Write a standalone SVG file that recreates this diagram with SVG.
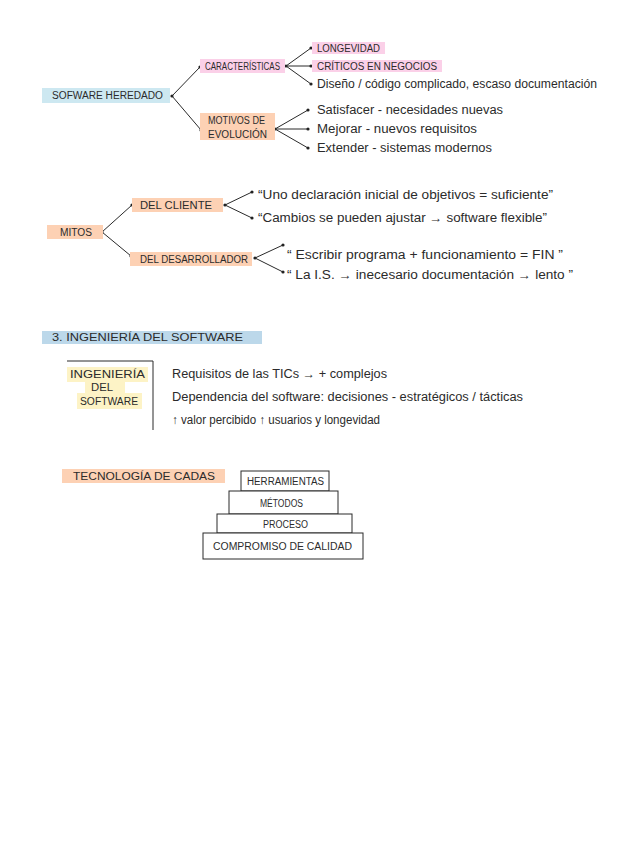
<svg xmlns="http://www.w3.org/2000/svg" width="619" height="848" viewBox="0 0 619 848">
<style>
.t{font-family:"Liberation Sans","DejaVu Sans",sans-serif;fill:#2b2b2b;font-size:12px}
.c{font-family:"Liberation Sans","DejaVu Sans",sans-serif;fill:#2b2b2b;font-size:10px}
.ln{stroke:#2a2a2a;stroke-width:1;fill:none}
.blue{fill:#cde8f1}
.pink{fill:#fbd0e8}
.peach{fill:#fdd1b4}
.yel{fill:#fdf3c6}
.hdr{fill:#bcd8ea}
.lvl{fill:#fff;stroke:#2a2a2a;stroke-width:1}
</style>
<defs>
<marker id="dot" viewBox="0 0 4 4" refX="2" refY="2" markerWidth="4" markerHeight="4" markerUnits="userSpaceOnUse"><circle cx="2" cy="2" r="1.6" fill="#222"/></marker>
</defs>
<rect width="619" height="848" fill="#fff"/>

<g id="connectors">
<path class="ln" marker-start="url(#dot)" marker-end="url(#dot)" d="M172,96 L200,67"/>
<path class="ln" marker-end="url(#dot)" d="M172,96 L201,130"/>
<path class="ln" marker-start="url(#dot)" marker-end="url(#dot)" d="M286,66 L311,48"/>
<path class="ln" marker-end="url(#dot)" d="M286,66 L311,66"/>
<path class="ln" marker-end="url(#dot)" d="M286,66 L311,84"/>
<path class="ln" marker-start="url(#dot)" marker-end="url(#dot)" d="M275,129 L308,110"/>
<path class="ln" marker-end="url(#dot)" d="M275,129 L308,129"/>
<path class="ln" marker-end="url(#dot)" d="M275,129 L308,148"/>
<path class="ln" marker-start="url(#dot)" marker-end="url(#dot)" d="M102,232 L132,205"/>
<path class="ln" marker-end="url(#dot)" d="M102,232 L131,256"/>
<path class="ln" marker-start="url(#dot)" marker-end="url(#dot)" d="M225,205 L252,192"/>
<path class="ln" marker-end="url(#dot)" d="M225,205 L252,218"/>
<path class="ln" marker-start="url(#dot)" marker-end="url(#dot)" d="M255,258 L283,245"/>
<path class="ln" marker-end="url(#dot)" d="M255,258 L283,272"/>
</g>

<g id="software-heredado"><rect class="blue" x="42" y="88" width="128" height="15"/><text class="c" x="52" y="99" textLength="111" lengthAdjust="spacingAndGlyphs">SOFWARE     HEREDADO</text></g>
<g id="caracteristicas"><rect class="pink" x="200" y="59" width="85" height="14"/><text class="c" x="205" y="70" textLength="75" lengthAdjust="spacingAndGlyphs">CARACTERÍSTICAS</text></g>
<g id="motivos"><rect class="peach" x="200" y="113" width="75" height="27"/><text class="c" x="208" y="124" textLength="57" lengthAdjust="spacingAndGlyphs">MOTIVOS DE</text><text class="c" x="208" y="138" textLength="59" lengthAdjust="spacingAndGlyphs">EVOLUCIÓN</text></g>
<g id="longevidad"><rect class="pink" x="312" y="42" width="73" height="12"/><text class="c" x="317" y="52" textLength="63" lengthAdjust="spacingAndGlyphs">LONGEVIDAD</text></g>
<g id="criticos"><rect class="pink" x="312" y="60" width="130" height="12"/><text class="c" x="317" y="70" textLength="120" lengthAdjust="spacingAndGlyphs">CRÍTICOS  EN  NEGOCIOS</text></g>
<g id="diseno"><text class="t" x="317" y="88" textLength="280" lengthAdjust="spacingAndGlyphs">Diseño / código  complicado,  escaso  documentación</text></g>
<g id="satisfacer"><text class="t" x="317" y="114" textLength="186" lengthAdjust="spacingAndGlyphs">Satisfacer - necesidades  nuevas</text></g>
<g id="mejorar"><text class="t" x="317" y="133" textLength="160" lengthAdjust="spacingAndGlyphs">Mejorar - nuevos  requisitos</text></g>
<g id="extender"><text class="t" x="317" y="152" textLength="175" lengthAdjust="spacingAndGlyphs">Extender - sistemas  modernos</text></g>

<g id="mitos"><rect class="peach" x="47" y="225" width="56" height="14"/><text class="c" x="60" y="236" textLength="32" lengthAdjust="spacingAndGlyphs">MITOS</text></g>
<g id="del-cliente"><rect class="peach" x="132" y="198" width="91" height="14"/><text class="c" x="140" y="209" textLength="72" lengthAdjust="spacingAndGlyphs">DEL   CLIENTE</text></g>
<g id="del-desarrollador"><rect class="peach" x="130" y="252" width="122" height="14"/><text class="c" x="140" y="263" textLength="108" lengthAdjust="spacingAndGlyphs">DEL   DESARROLLADOR</text></g>
<g id="mito1"><text class="t" x="258" y="199" textLength="295" lengthAdjust="spacingAndGlyphs">“Uno declaración inicial de objetivos = suficiente”</text></g>
<g id="mito2"><text class="t" x="258" y="222" textLength="289" lengthAdjust="spacingAndGlyphs">“Cambios se pueden ajustar → software flexible”</text></g>
<g id="mito3"><text class="t" x="287" y="259" textLength="276" lengthAdjust="spacingAndGlyphs">“ Escribir programa + funcionamiento  =  FIN ”</text></g>
<g id="mito4"><text class="t" x="287" y="279" textLength="286" lengthAdjust="spacingAndGlyphs">“ La I.S. → inecesario  documentación → lento ”</text></g>

<g id="header-3"><rect class="hdr" x="42" y="331" width="220" height="13"/><text class="c" x="52" y="341" textLength="191" lengthAdjust="spacingAndGlyphs">3.  INGENIERÍA    DEL    SOFTWARE</text></g>

<g id="ingenieria-box">
<path class="ln" d="M67,361 H153 V430"/>
<rect class="yel" x="67" y="367" width="81" height="15"/>
<rect class="yel" x="85" y="382" width="40" height="11"/>
<rect class="yel" x="77" y="393" width="65" height="16"/>
<text class="c" x="70" y="378" textLength="75" lengthAdjust="spacingAndGlyphs">INGENIERÍA</text>
<text class="c" x="91" y="391" textLength="22" lengthAdjust="spacingAndGlyphs">DEL</text>
<text class="c" x="80" y="405" textLength="58" lengthAdjust="spacingAndGlyphs">SOFTWARE</text>
</g>
<g id="requisitos"><text class="t" x="172" y="378" textLength="215" lengthAdjust="spacingAndGlyphs">Requisitos  de  las  TICs → + complejos</text></g>
<g id="dependencia"><text class="t" x="172" y="401" textLength="351" lengthAdjust="spacingAndGlyphs">Dependencia  del  software:  decisiones - estratégicos / tácticas</text></g>
<g id="valor"><text class="t" x="172" y="424" textLength="208" lengthAdjust="spacingAndGlyphs">↑ valor  percibido  ↑ usuarios  y  longevidad</text></g>

<g id="tecnologia-capas"><rect class="peach" x="62" y="469" width="163" height="14"/><text class="c" x="73" y="480" textLength="142" lengthAdjust="spacingAndGlyphs">TECNOLOGÍA    DE    CADAS</text></g>
<g id="herramientas"><rect class="lvl" x="241" y="471" width="88" height="20"/><text class="c" x="247" y="485" textLength="77" lengthAdjust="spacingAndGlyphs">HERRAMIENTAS</text></g>
<g id="metodos"><rect class="lvl" x="229" y="491" width="109" height="23"/><text class="c" x="260" y="507" textLength="43" lengthAdjust="spacingAndGlyphs">MÉTODOS</text></g>
<g id="proceso"><rect class="lvl" x="217" y="514" width="135" height="19"/><text class="c" x="263" y="528" textLength="45" lengthAdjust="spacingAndGlyphs">PROCESO</text></g>
<g id="compromiso"><rect class="lvl" x="203" y="533" width="160" height="26"/><text class="c" x="213" y="550" textLength="139" lengthAdjust="spacingAndGlyphs">COMPROMISO  DE  CALIDAD</text></g>
</svg>
